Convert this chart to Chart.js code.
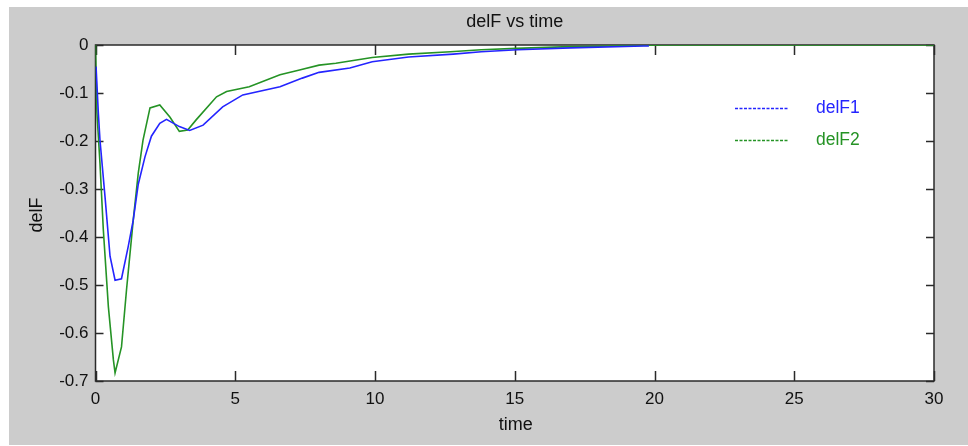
<!DOCTYPE html>
<html>
<head>
<meta charset="utf-8">
<script src="https://cdn.jsdelivr.net/npm/chart.js@4"></script>
<style>
  body { margin: 0; background: #fff; }
  canvas { display: block; }
</style>
</head>
<body>
<canvas id="chart" width="968" height="446"></canvas>
<script>
// values
const time1 = [0.02, 0.1, 0.16, 0.34, 0.52, 0.7, 0.93, 1.17, 1.35, 1.53, 1.77, 2.0, 2.3, 2.54, 3.0, 3.37, 3.85, 4.55, 5.27, 6.6, 7.4, 8.0, 9.1, 9.9, 11.2, 12.8, 13.8, 15.1, 17.0, 19.6, 19.8];
const delF1 = [-0.045, -0.14, -0.198, -0.316, -0.44, -0.49, -0.487, -0.42, -0.365, -0.29, -0.233, -0.19, -0.163, -0.155, -0.17, -0.178, -0.167, -0.129, -0.104, -0.087, -0.069, -0.057, -0.048, -0.035, -0.025, -0.019, -0.014, -0.010, -0.006, -0.002, -0.002];

const time2 = [0, 0.05, 0.16, 0.28, 0.46, 0.64, 0.7, 0.93, 1.11, 1.35, 1.53, 1.7, 1.95, 2.3, 2.66, 3.0, 3.3, 3.6, 4.33, 4.69, 5.5, 6.6, 7.3, 8.0, 8.6, 9.9, 11.2, 12.7, 13.8, 15.05, 16.7, 18.5, 20.3, 25, 30];
const delF2 = [0, -0.14, -0.246, -0.385, -0.545, -0.656, -0.683, -0.629, -0.51, -0.365, -0.267, -0.198, -0.131, -0.125, -0.15, -0.18, -0.177, -0.156, -0.108, -0.097, -0.087, -0.062, -0.052, -0.042, -0.038, -0.026, -0.019, -0.014, -0.010, -0.007, -0.004, -0.002, 0, 0, 0];

const seriesNames = ['delF1', 'delF2'];
const xTicks = [0, 5, 10, 15, 20, 25, 30];
const yTicks = [0, -0.1, -0.2, -0.3, -0.4, -0.5, -0.6, -0.7];

const BLUE = '#2424ff';
const GREEN = '#259325';
const FONT = '"Liberation Sans", Arial, sans-serif';

function toPoints(xs, ys) {
    return xs.map((x, i) => ({ x: x, y: ys[i] }));
}

// gray figure background, inner ticks, frame, labels and legend
const matlabLook = {
    id: 'matlabLook',
    beforeDraw(chart) {
        const ctx = chart.ctx;
        const a = chart.chartArea;
        ctx.save();
        ctx.fillStyle = '#ffffff';
        ctx.fillRect(0, 0, chart.width, chart.height);
        ctx.fillStyle = '#cccccc';
        ctx.fillRect(9, 7, chart.width - 9, 438);
        ctx.fillStyle = '#ffffff';
        ctx.fillRect(a.left, a.top, a.right - a.left, a.bottom - a.top);
        ctx.restore();
    },
    beforeDatasetsDraw(chart) {
        const ctx = chart.ctx;
        const a = chart.chartArea;
        const xs = chart.scales.x;
        const ys = chart.scales.y;
        ctx.save();
        ctx.strokeStyle = '#2a2a2a';
        ctx.lineWidth = 1.5;
        ctx.beginPath();
        xTicks.forEach(v => {
            const px = Math.round(xs.getPixelForValue(v)) + 0.5;
            ctx.moveTo(px, a.bottom); ctx.lineTo(px, a.bottom - 10);
            ctx.moveTo(px, a.top); ctx.lineTo(px, a.top + 10);
        });
        yTicks.forEach(v => {
            const py = Math.round(ys.getPixelForValue(v)) + 0.5;
            ctx.moveTo(a.left, py); ctx.lineTo(a.left + 8, py);
            ctx.moveTo(a.right, py); ctx.lineTo(a.right - 8, py);
        });
        ctx.stroke();
        ctx.strokeRect(a.left, a.top, a.right - a.left, a.bottom - a.top);
        ctx.restore();
    },
    afterDraw(chart) {
        const ctx = chart.ctx;
        const a = chart.chartArea;
        const mid = (a.left + a.right) / 2;
        ctx.save();
        ctx.fillStyle = '#111';
        ctx.font = '18px ' + FONT;
        ctx.textAlign = 'center';
        ctx.textBaseline = 'middle';
        ctx.fillText('delF vs time', mid, 22);
        ctx.fillText('time', mid + 1, 425);
        ctx.translate(37, (a.top + a.bottom) / 2 + 2);
        ctx.rotate(-Math.PI / 2);
        ctx.fillText('delF', 0, 0);
        ctx.restore();

        // legend
        ctx.save();
        ctx.lineWidth = 1.3;
        ctx.setLineDash([3, 1.5]);
        ctx.font = '17.5px ' + FONT;
        ctx.textBaseline = 'middle';
        chart.data.datasets.forEach((ds, i) => {
            const y = 108.5 + i * 32;
            ctx.strokeStyle = ds.borderColor;
            ctx.beginPath();
            ctx.moveTo(735, y);
            ctx.lineTo(788, y);
            ctx.stroke();
            ctx.fillStyle = ds.borderColor;
            ctx.fillText(ds.label, 816, y);
        });
        ctx.restore();
    }
};

new Chart(document.getElementById('chart'), {
    type: 'line',
    data: {
        datasets: [
            { label: seriesNames[0], data: toPoints(time1, delF1), borderColor: BLUE, borderWidth: 1.6, pointRadius: 0, tension: 0 },
            { label: seriesNames[1], data: toPoints(time2, delF2), borderColor: GREEN, borderWidth: 1.6, pointRadius: 0, tension: 0 }
        ]
    },
    options: {
        responsive: false,
        animation: false,
        layout: { padding: { left: 0, top: 45, right: 34, bottom: 0 } },
        plugins: {
            legend: { display: false },
            title: { display: false },
            tooltip: { enabled: false }
        },
        scales: {
            x: {
                type: 'linear',
                min: 0,
                max: 30,
                afterFit: scale => { scale.height = 65; },
                afterBuildTicks: scale => { scale.ticks = xTicks.map(v => ({ value: v })); },
                grid: { display: false, drawTicks: false },
                border: { display: false },
                ticks: { color: '#111', padding: 8, font: { size: 17, family: FONT }, maxRotation: 0 }
            },
            y: {
                type: 'linear',
                min: -0.7,
                max: 0,
                afterFit: scale => { scale.width = 95.5; },
                afterBuildTicks: scale => { scale.ticks = yTicks.map(v => ({ value: v })); },
                grid: { display: false, drawTicks: false },
                border: { display: false },
                ticks: {
                    color: '#111',
                    padding: 7,
                    font: { size: 17, family: FONT },
                    callback: v => (Math.round(v * 10) / 10).toString()
                }
            }
        }
    },
    plugins: [matlabLook]
});
</script>
</body>
</html>
